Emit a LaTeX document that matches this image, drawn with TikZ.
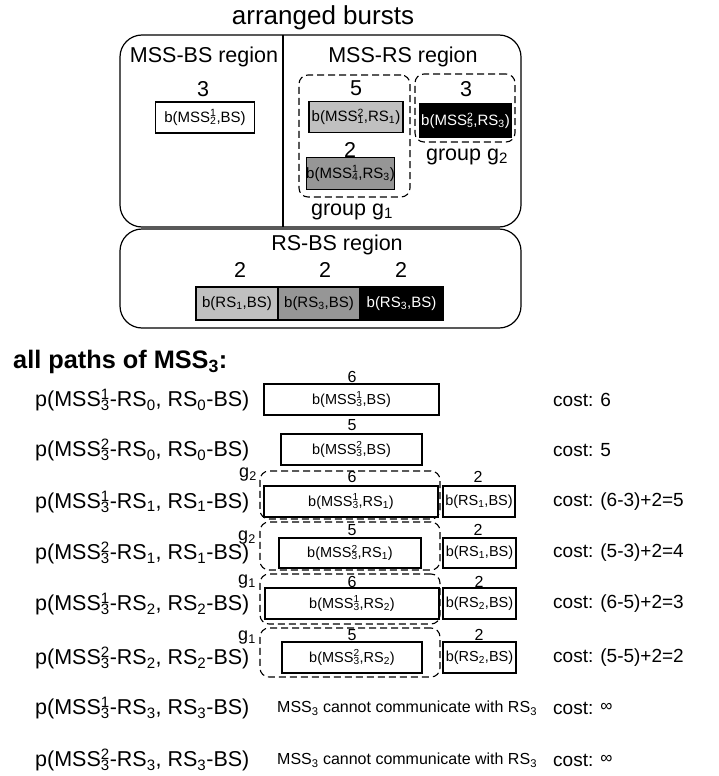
\documentclass[tikz,border=0pt]{standalone}
\usepackage{fontspec}
\setmainfont{Liberation Sans}
\usetikzlibrary{positioning}

% stacked superscript/subscript, plain subscript
\newcommand{\ud}[2]{\rlap{\textsuperscript{#1}}\textsubscript{#2}}
\newcommand{\dn}[1]{\textsubscript{#1}}
\newcommand{\infcost}{\raisebox{2.5pt}{\fontsize{17}{17}\selectfont ∞}}

\definecolor{lightburst}{RGB}{192,192,192}
\definecolor{darkburst}{RGB}{150,150,150}

\tikzset{
    regionbox/.style={draw, line width=1.2pt, rounded corners=22pt, inner sep=0pt},
    groupbox/.style={draw, line width=1.1pt, dash pattern=on 7pt off 4pt, rounded corners=9pt, inner sep=0pt},
    burst/.style={draw, line width=1.2pt, inner sep=0pt, minimum height=31pt, font=\fontsize{15}{17}\selectfont},
    pathburst/.style={burst, font=\fontsize{14.5}{16}\selectfont},
    bigtext/.style={font=\fontsize{21.5}{24}\selectfont, inner sep=0pt},
    smallcnt/.style={font=\fontsize{16}{18}\selectfont, inner sep=0pt},
    grouptag/.style={font=\fontsize{18}{20}\selectfont, inner sep=0pt},
    pathtext/.style={font=\fontsize{21.5}{24}\selectfont, inner sep=0pt, anchor=west},
    costtext/.style={font=\fontsize{19}{22}\selectfont, inner sep=0pt, anchor=west},
    notetext/.style={font=\fontsize{16}{19}\selectfont, inner sep=0pt, anchor=west}
}

\begin{document}
\begin{tikzpicture}[x=1pt, y=-1pt]
\useasboundingbox (0,0) rectangle (719,776);

\node[font=\fontsize{26}{30}\selectfont, inner sep=0pt] (title) at (323,18) {arranged bursts};

% MSS-BS and MSS-RS regions
\node[regionbox, minimum width=401pt, minimum height=192pt] (upper) at (320.5,131) {};
\draw[line width=1.2pt] (283,35) -- (283,227);

\node[bigtext] (mssbs) at (204,57) {MSS-BS region};
\node[bigtext] (cntA) at (203,89) {3};
\node[burst, fill=white, minimum width=99pt] (burstA) at (205,117.5) {b(MSS\ud{1}{2},BS)};

\node[bigtext] (mssrs) at (403,57) {MSS-RS region};
\node[groupbox, minimum width=111pt, minimum height=122pt] (gone) at (354.5,136) {};
\node[bigtext] (cntB) at (356,88) {5};
\node[burst, fill=lightburst, minimum width=94pt] (burstB) at (356,117) {b(MSS\ud{2}{1},RS\dn{1})};
\node[bigtext] (cntC) at (350,150) {2};
\node[burst, fill=darkburst, minimum width=84pt, minimum height=32pt] (burstC) at (350.5,173.5) {b(MSS\ud{1}{4},RS\dn{3})};
\node[bigtext] (gonetext) at (352,212) {group g\dn{1}};

\node[groupbox, minimum width=100pt, minimum height=68pt] (gtwo) at (465,108) {};
\node[bigtext] (cntD) at (466,89) {3};
\node[burst, fill=black, text=white, minimum width=91pt, minimum height=33pt] (burstD) at (465.5,120.5) {b(MSS\ud{2}{5},RS\dn{3})};
\node[bigtext] (gtwotext) at (467,157) {group g\dn{2}};

% RS-BS region
\node[regionbox, minimum width=401pt, minimum height=99pt] (lower) at (320.5,278.5) {};
\node[bigtext] (rsbs) at (337,245) {RS-BS region};
\node[bigtext] (cntE) at (240,270) {2};
\node[bigtext] (cntF) at (325,270) {2};
\node[bigtext] (cntG) at (401,270) {2};
\node[burst, fill=lightburst, minimum width=82pt, minimum height=33pt] (burstE) at (237,303.5) {b(RS\dn{1},BS)};
\node[burst, fill=darkburst, minimum width=82pt, minimum height=33pt] (burstF) at (319,303.5) {b(RS\dn{3},BS)};
\node[burst, fill=black, text=white, minimum width=83pt, minimum height=33pt] (burstG) at (401.5,303.5) {b(RS\dn{3},BS)};

% all paths
\node[font=\fontsize{25.3}{29}\selectfont\bfseries, inner sep=0pt, anchor=west] (allpaths) at (13,362) {all paths of MSS\dn{3}:};

\node[pathtext] (pathA) at (35,400) {p(MSS\ud{1}{3}-RS\dn{0}, RS\dn{0}-BS)};
\node[smallcnt] (cntA1) at (352,377) {6};
\node[pathburst, minimum width=175pt] (pbA) at (351.5,399.5) {b(MSS\ud{1}{3},BS)};
\node[costtext] (costA) at (553,400) {cost: 6};

\node[pathtext] (pathB) at (35,450) {p(MSS\ud{2}{3}-RS\dn{0}, RS\dn{0}-BS)};
\node[smallcnt] (cntB1) at (352,425) {5};
\node[pathburst, minimum width=141pt] (pbB) at (351.5,449.5) {b(MSS\ud{2}{3},BS)};
\node[costtext] (costB) at (553,450) {cost: 5};

\node[pathtext] (pathC) at (35,502) {p(MSS\ud{1}{3}-RS\dn{1}, RS\dn{1}-BS)};
\node[groupbox, minimum width=180pt, minimum height=48pt] (grpC) at (350,495) {};
\node[grouptag] (tagC) at (248,475) {g\dn{2}};
\node[smallcnt] (cntC1) at (352,477) {6};
\node[pathburst, minimum width=174pt] (pbC) at (351,501.5) {b(MSS\ud{1}{3},RS\dn{1})};
\node[smallcnt] (cntC2) at (478,477) {2};
\node[pathburst, minimum width=72pt] (rbC) at (479,501.5) {b(RS\dn{1},BS)};
\node[costtext] (costC) at (553,502) {cost: (6-3)+2=5};

\node[pathtext] (pathD) at (35,553) {p(MSS\ud{2}{3}-RS\dn{1}, RS\dn{1}-BS)};
\node[groupbox, minimum width=180pt, minimum height=48pt] (grpD) at (350,546) {};
\node[grouptag] (tagD) at (247,538) {g\dn{2}};
\node[smallcnt] (cntD1) at (352,530) {5};
\node[pathburst, minimum width=142pt, minimum height=30pt] (pbD) at (350,553) {b(MSS\ud{2}{3},RS\dn{1})};
\node[smallcnt] (cntD2) at (478,530) {2};
\node[pathburst, minimum width=73pt, minimum height=30pt] (rbD) at (479.5,553) {b(RS\dn{1},BS)};
\node[costtext] (costD) at (553,553) {cost: (5-3)+2=4};

\node[pathtext] (pathE) at (35,604) {p(MSS\ud{1}{3}-RS\dn{2}, RS\dn{2}-BS)};
\node[groupbox, minimum width=180pt, minimum height=50pt] (grpE) at (350,599) {};
\node[grouptag] (tagE) at (247,582) {g\dn{1}};
\node[smallcnt] (cntE1) at (352,582) {6};
\node[pathburst, minimum width=174pt] (pbE) at (352,603.5) {b(MSS\ud{1}{3},RS\dn{2})};
\node[smallcnt] (cntE2) at (479,582) {2};
\node[pathburst, minimum width=73pt] (rbE) at (479.5,603.5) {b(RS\dn{2},BS)};
\node[costtext] (costE) at (553,604) {cost: (6-5)+2=3};

\node[pathtext] (pathF) at (35,658) {p(MSS\ud{2}{3}-RS\dn{2}, RS\dn{2}-BS)};
\node[groupbox, minimum width=180pt, minimum height=49pt] (grpF) at (350,652.5) {};
\node[grouptag] (tagF) at (247,638) {g\dn{1}};
\node[smallcnt] (cntF1) at (352,635) {5};
\node[pathburst, minimum width=140pt] (pbF) at (352,657.5) {b(MSS\ud{2}{3},RS\dn{2})};
\node[smallcnt] (cntF2) at (479,635) {2};
\node[pathburst, minimum width=73pt] (rbF) at (479.5,657.5) {b(RS\dn{2},BS)};
\node[costtext] (costF) at (553,658) {cost: (5-5)+2=2};

\node[pathtext] (pathG) at (35,708) {p(MSS\ud{1}{3}-RS\dn{3}, RS\dn{3}-BS)};
\node[notetext] (noteG) at (277,708) {MSS\dn{3} cannot communicate with RS\dn{3}};
\node[costtext] (costG) at (553,708) {cost: \infcost};

\node[pathtext] (pathH) at (35,760) {p(MSS\ud{2}{3}-RS\dn{3}, RS\dn{3}-BS)};
\node[notetext] (noteH) at (277,760) {MSS\dn{3} cannot communicate with RS\dn{3}};
\node[costtext] (costH) at (553,760) {cost: \infcost};

\end{tikzpicture}
\end{document}
